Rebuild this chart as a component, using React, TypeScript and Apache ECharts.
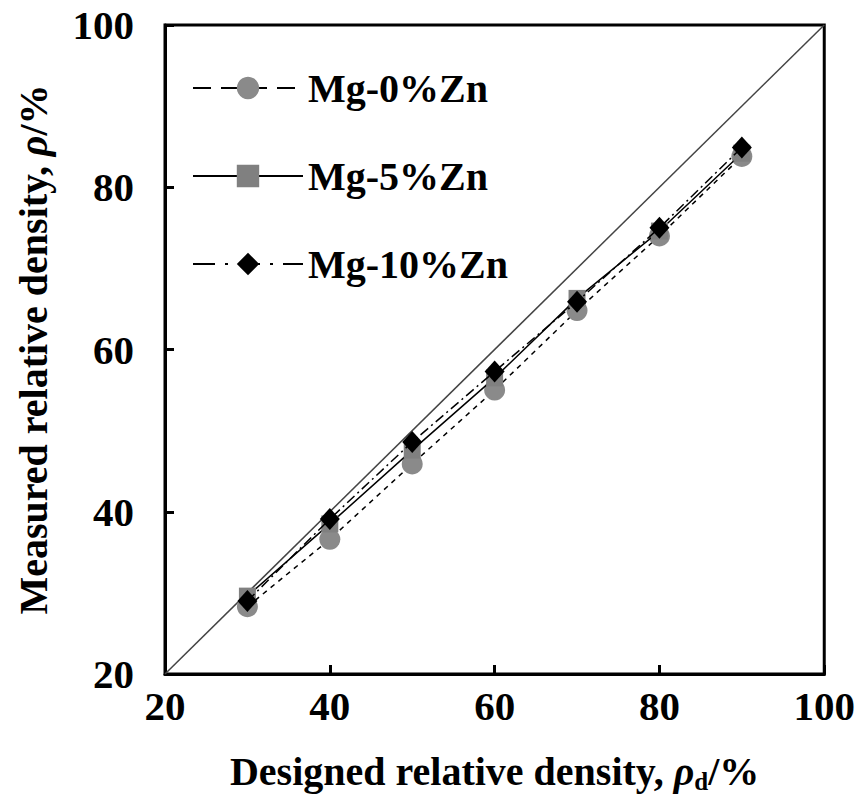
import React, { useEffect, useRef } from "react";
import * as echarts from "echarts";

const designed = [30, 40, 50, 60, 70, 80, 90];
const mg0 = [28.3, 36.6, 45.9, 55.0, 64.8, 74.0, 83.8];
const mg5 = [29.6, 38.5, 47.6, 56.5, 66.3, 74.6, 84.2];
const mg10 = [29.0, 39.1, 48.6, 57.3, 65.9, 75.0, 84.9];
const diagonal = [20, 100];
const seriesNames = ["Mg-0%Zn", "Mg-5%Zn", "Mg-10%Zn"];

const FONT = "Liberation Serif";

export default function App() {
  const ref = useRef<HTMLDivElement>(null);
  useEffect(() => {
    if (!ref.current) return;
    const chart = echarts.init(ref.current, undefined, { renderer: "svg" });
    const pair = (vals: number[]) => designed.map((x, i) => [x, vals[i]]);
    const labelStyle = { fontFamily: FONT, fontWeight: "bold" as const, fontSize: 41, color: "#000" };
    const axisCommon = {
      type: "value" as const,
      min: 20,
      max: 100,
      interval: 20,
      splitLine: { show: false },
      axisLine: { show: true, lineStyle: { color: "#000", width: 3 } },
      axisTick: { show: true, inside: true, length: 9, lineStyle: { color: "#000", width: 3 } },
    };
    chart.setOption({
      animation: false,
      backgroundColor: "#fff",
      grid: { left: 165, top: 25, right: 32, bottom: 126, show: true, borderColor: "#000", borderWidth: 3 },
      legend: {
        orient: "vertical",
        left: 187,
        top: 61,
        itemWidth: 110,
        itemHeight: 28,
        itemGap: 44,
        textStyle: { ...labelStyle, fontSize: 40, lineHeight: 44 },
        data: [
          { name: seriesNames[0], lineStyle: { type: [18, 10] } },
          { name: seriesNames[1] },
          { name: seriesNames[2], lineStyle: { type: [22, 10, 3, 10] } },
        ],
      },
      xAxis: {
        ...axisCommon,
        axisLabel: { ...labelStyle, margin: 11 },
        name: "{a|Designed relative density, }{i|ρ}{s|d}{a|/%}",
        nameLocation: "middle",
        nameGap: 74,
        nameTextStyle: {
          rich: {
            a: { ...labelStyle, fontSize: 40, lineHeight: 46 },
            i: { ...labelStyle, fontStyle: "italic", fontSize: 40, lineHeight: 46 },
            s: { ...labelStyle, fontSize: 25, lineHeight: 22, verticalAlign: "bottom" },
          },
        },
      },
      yAxis: {
        ...axisCommon,
        axisLabel: { ...labelStyle, margin: 31 },
        name: "{a|Measured relative density, }{i|ρ}{a|/%}",
        nameLocation: "middle",
        nameGap: 110,
        nameTextStyle: {
          rich: {
            a: { ...labelStyle, fontSize: 40, lineHeight: 44 },
            i: { ...labelStyle, fontStyle: "italic", fontSize: 40, lineHeight: 44 },
          },
        },
      },
      series: [
        {
          name: "y=x",
          type: "line",
          data: diagonal.map((v) => [v, v]),
          symbol: "none",
          lineStyle: { color: "#444", width: 1.5 },
          silent: true,
          z: 1,
        },
        {
          name: seriesNames[0],
          type: "line",
          data: pair(mg0),
          symbol: "circle",
          symbolSize: 21,
          itemStyle: { color: "#8a8a8a" },
          lineStyle: { color: "#000", width: 1.5, type: [5, 5] },
          z: 2,
        },
        {
          name: seriesNames[1],
          type: "line",
          data: pair(mg5),
          symbol: "rect",
          symbolSize: 17,
          itemStyle: { color: "#808080" },
          lineStyle: { color: "#000", width: 1.5, type: "solid" },
          z: 3,
        },
        {
          name: seriesNames[2],
          type: "line",
          data: pair(mg10),
          symbol: "diamond",
          symbolSize: [20, 22],
          itemStyle: { color: "#000" },
          lineStyle: { color: "#000", width: 1.5, type: [10, 4, 2, 4] },
          z: 4,
        },
      ],
    });
    return () => chart.dispose();
  }, []);
  return (
    <div
      ref={ref}
      style={{ position: "fixed", left: 0, top: 0, width: 858, height: 800, background: "#fff" }}
    />
  );
}
